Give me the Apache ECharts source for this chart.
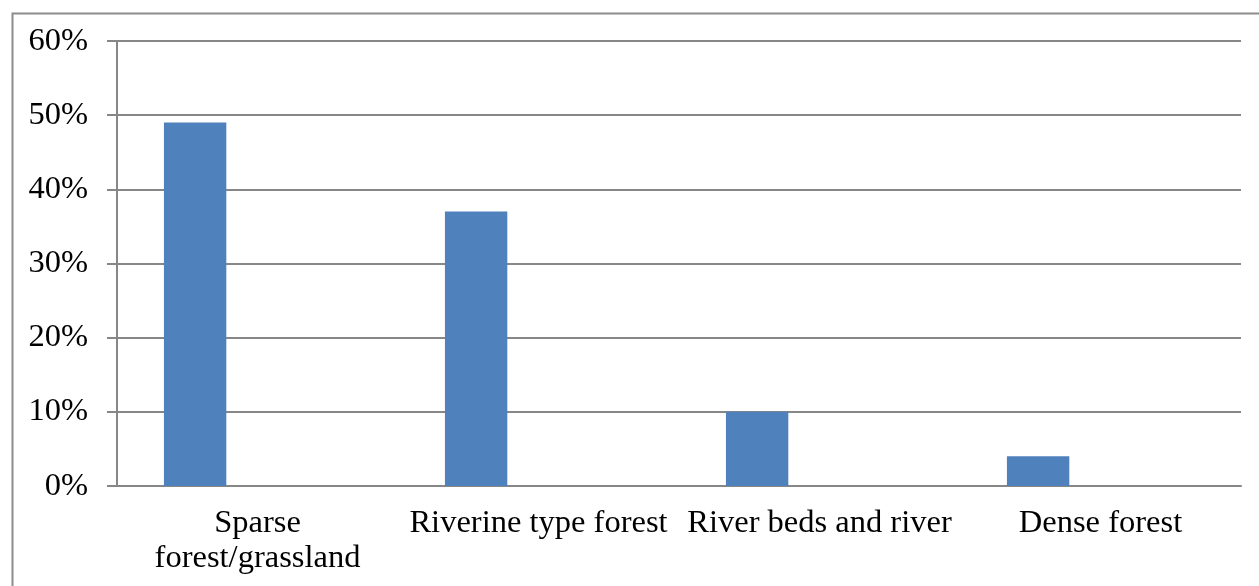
<!DOCTYPE html>
<html>
<head>
<meta charset="utf-8">
<script src="https://cdn.jsdelivr.net/npm/echarts@6/dist/echarts.min.js"></script>
<style>
  html, body { margin: 0; padding: 0; background: #fff; }
  #chart { width: 1259px; height: 586px; }
</style>
</head>
<body>
<div id="chart"></div>
<script>
const categories = ['Sparse\nforest/grassland', 'Riverine type forest', 'River beds and river', 'Dense forest'];
const shares = [49, 37, 10, 4];
const yTicks = { min: 0, max: 60, step: 10 };

const chart = echarts.init(document.getElementById('chart'));
const axisGray = '#878787';
const serif = '"Liberation Serif", "DejaVu Serif", serif';

const options = {
    animation: false,
    backgroundColor: '#fff',
    grid: { left: 117, right: 18, top: 41, bottom: 100 },
    graphic: [{
        type: 'rect',
        left: 10,
        top: 11,
        shape: { width: 1300, height: 620 },
        style: { fill: 'none', stroke: '#8c8c8c', lineWidth: 2 },
        z: -1
    }],
    xAxis: {
        type: 'category',
        data: categories,
        axisLine: { lineStyle: { color: axisGray, width: 2 } },
        axisTick: { length: 7, lineStyle: { color: axisGray, width: 2 } },
        axisLabel: {
            color: '#000',
            fontFamily: serif,
            fontSize: 32.5,
            lineHeight: 35,
            margin: 20,
            interval: 0
        }
    },
    yAxis: {
        type: 'value',
        min: yTicks.min,
        max: yTicks.max,
        interval: yTicks.step,
        axisLine: { show: true, lineStyle: { color: axisGray, width: 2 } },
        axisTick: { show: true, length: 10, lineStyle: { color: axisGray, width: 2 } },
        splitLine: { lineStyle: { color: axisGray, width: 2 } },
        axisLabel: {
            color: '#000',
            fontFamily: serif,
            fontSize: 32.5,
            margin: 29,
            formatter: '{value}%'
        }
    },
    series: [
        {
            type: 'bar',
            data: shares,
            barGap: '0%',
            barCategoryGap: '33.4%',
            itemStyle: { color: '#4F81BD' }
        },
        { type: 'bar', data: [] },
        { type: 'bar', data: [] }
    ]
};

chart.setOption(options);
</script>
</body>
</html>
